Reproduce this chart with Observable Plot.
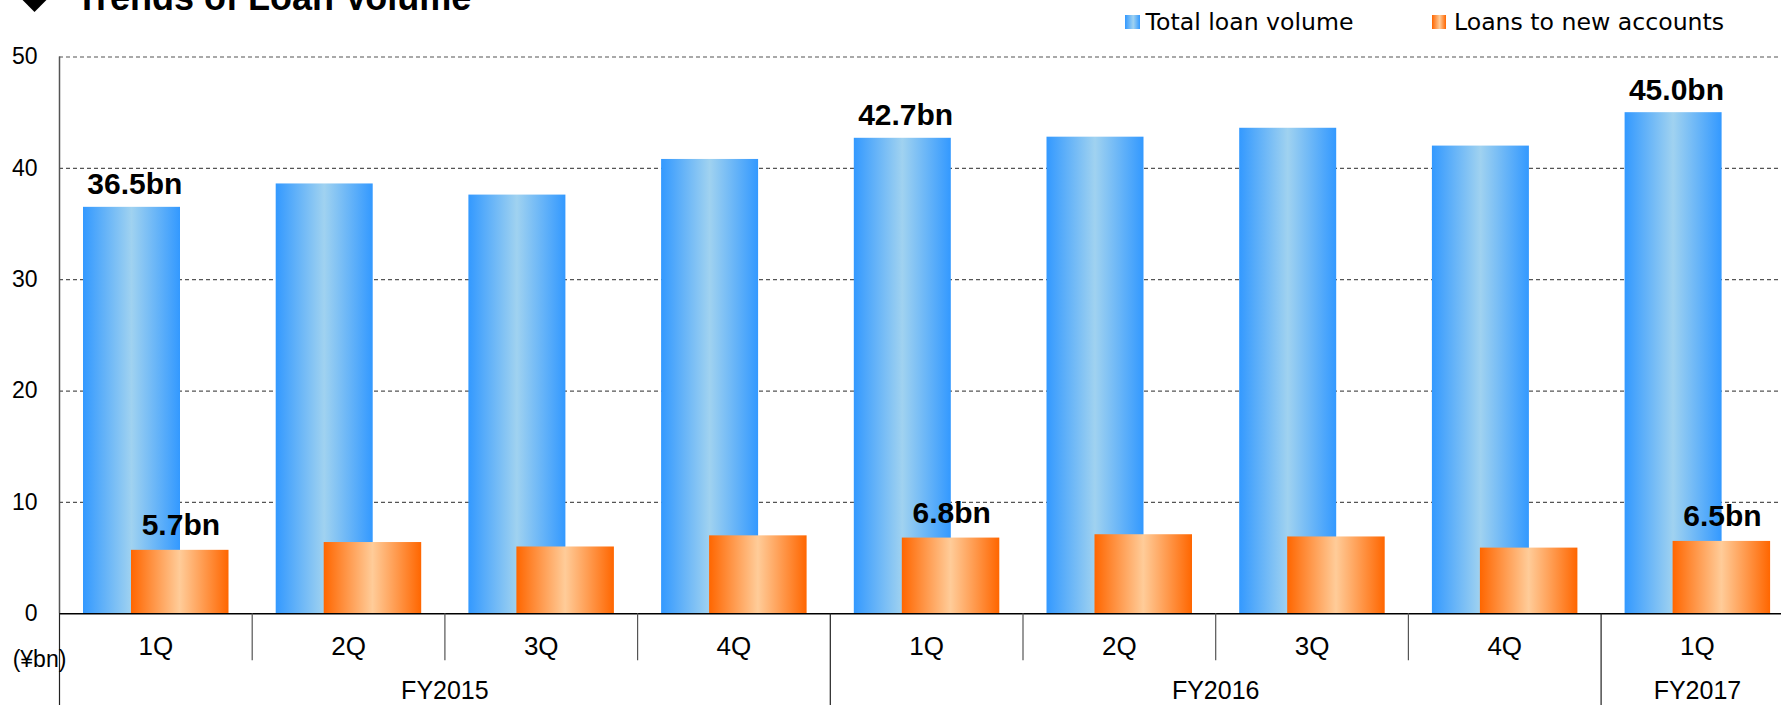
<!DOCTYPE html>
<html>
<head>
<meta charset="utf-8">
<script src="https://cdn.jsdelivr.net/npm/d3@7"></script>
<script src="https://cdn.jsdelivr.net/npm/@observablehq/plot@0.6"></script>
<style>
  html, body { margin: 0; padding: 0; background: #fff; overflow: hidden; }
  #wrap { position: relative; width: 1781px; height: 705px; overflow: hidden; }
  #chart { position: absolute; left: 0; top: 0; }
  #diamond { position: absolute; left: 25px; top: -11.4px; width: 19px; height: 19px; background: #000; transform: rotate(45deg); }
  #title { position: absolute; left: 76px; top: -20.5px; font: bold 36px "Liberation Sans", Arial, sans-serif; line-height: 36px; color: #000; white-space: nowrap; }
  .lg-sw { position: absolute; top: 15px; height: 14px; }
  .lg-tx { position: absolute; top: 11px; font: 23.6px "DejaVu Sans", sans-serif; line-height: 23px; color: #000; white-space: nowrap; }
</style>
</head>
<body>
<div id="wrap">
  <div id="chart"></div>
  <div id="diamond"></div>
  <div id="title">Trends of Loan Volume</div>
  <div class="lg-sw" style="left:1124.6px;width:15px;background:linear-gradient(90deg,#3399ff,#a0d2f0 55%,#3399ff);"></div>
  <div class="lg-tx" style="left:1145.6px;">Total loan volume</div>
  <div class="lg-sw" style="left:1432px;width:14px;background:linear-gradient(90deg,#ff6600,#ffcc99 55%,#ff6600);"></div>
  <div class="lg-tx" style="left:1454px;">Loans to new accounts</div>
</div>
<script>
// ---- data ----
const fiscalYears = ["FY2015", "FY2015", "FY2015", "FY2015", "FY2016", "FY2016", "FY2016", "FY2016", "FY2017"];
const quarters = ["1Q", "2Q", "3Q", "4Q", "1Q", "2Q", "3Q", "4Q", "1Q"];
const totalLoanVolume = [36.5, 38.6, 37.6, 40.8, 42.7, 42.8, 43.6, 42.0, 45.0];
const newAccountLoans = [5.7, 6.4, 6.0, 7.0, 6.8, 7.1, 6.9, 5.9, 6.5];
const labelledQuarters = [0, 4, 8];
const yTicks = [0, 10, 20, 30, 40, 50];
const unitLabel = "(¥bn)";

// ---- derived tables ----
const rows = quarters.map((q, i) => ({i, q, fy: fiscalYears[i], total: totalLoanVolume[i], fresh: newAccountLoans[i]}));
const labelled = rows.filter(d => labelledQuarters.includes(d.i));
const qBounds = rows.filter(d => d.i > 0 && d.fy === fiscalYears[d.i - 1]).map(d => d.i - 0.5);
const fyStarts = rows.filter(d => d.i === 0 || d.fy !== fiscalYears[d.i - 1]).map(d => d.i - 0.5);
const fyGroups = d3.groups(rows, d => d.fy).map(([fy, rs]) => ({fy, c: d3.mean(rs, r => r.i)}));

const FONT = "'Liberation Sans', Arial, sans-serif";
const W = 1781, H = 705;
const mL = 59, mT = 56.5, mB = 91.7;
const band = 192.7;               // px per quarter
const mR = W - (mL + band * quarters.length);

const chart = Plot.plot({
  width: W,
  height: H,
  marginLeft: mL,
  marginTop: mT,
  marginBottom: mB,
  marginRight: mR,
  style: {fontFamily: FONT, background: "transparent", color: "#000"},
  x: {type: "linear", domain: [-0.5, quarters.length - 0.5], axis: null},
  y: {domain: [0, 50], axis: null},
  marks: [
    Plot.ruleY(yTicks.filter(t => t > 0), {stroke: "#555", strokeWidth: 1.2, strokeDasharray: "4,3"}),
    Plot.rectY(rows, {x1: d => d.i - 0.5, x2: d => d.i + 0.5, y: "total", insetLeft: 24, insetRight: 71.7, fill: "url(#gBlue)"}),
    Plot.rectY(rows, {x1: d => d.i - 0.5, x2: d => d.i + 0.5, y: "fresh", insetLeft: 72, insetRight: 23.2, fill: "url(#gOrange)"}),
    Plot.ruleY([0], {stroke: "#000", strokeWidth: 1.5}),
    Plot.ruleX([-0.5], {stroke: "#555", strokeWidth: 1.5}),
    Plot.ruleX(qBounds, {x: d => d, y1: 0, y2: 0, insetBottom: -47, stroke: "#555", strokeWidth: 1.2}),
    Plot.ruleX(fyStarts, {x: d => d, y1: 0, y2: 0, insetBottom: -mB, stroke: "#222", strokeWidth: 1.2}),
    Plot.axisY({ticks: yTicks, tickSize: 0, tickPadding: 22, fontSize: 23, fontFamily: FONT, label: null}),
    Plot.text(rows, {x: "i", y: 0, text: "q", dy: 33, lineAnchor: "middle", fontSize: 26, fill: "#000"}),
    Plot.text(fyGroups, {x: "c", y: 0, text: "fy", dy: 77, lineAnchor: "middle", fontSize: 25, fill: "#000"}),
    Plot.text([unitLabel], {frameAnchor: "bottom-left", text: d => d, textAnchor: "middle", dx: -20, dy: 46, lineAnchor: "middle", fontSize: 23, fill: "#000"}),
    Plot.text(labelled, {x: "i", y: "total", text: d => d.total.toFixed(1) + "bn", dx: -21, dy: -13, lineAnchor: "bottom", fontSize: 30, fontWeight: "bold", fill: "#000"}),
    Plot.text(labelled, {x: "i", y: "fresh", text: d => d.fresh.toFixed(1) + "bn", dx: 25, dy: -15, lineAnchor: "bottom", fontSize: 30, fontWeight: "bold", fill: "#000"})
  ]
});

// gradients used by the bars
const ns = "http://www.w3.org/2000/svg";
const defs = document.createElementNS(ns, "defs");
function grad(id, edge, mid) {
  const g = document.createElementNS(ns, "linearGradient");
  g.setAttribute("id", id);
  g.setAttribute("x1", "0"); g.setAttribute("x2", "1"); g.setAttribute("y1", "0"); g.setAttribute("y2", "0");
  [[0, edge], [0.5, mid], [1, edge]].forEach(([o, c]) => {
    const s = document.createElementNS(ns, "stop");
    s.setAttribute("offset", o);
    s.setAttribute("stop-color", c);
    g.appendChild(s);
  });
  defs.appendChild(g);
}
grad("gBlue", "#3399ff", "#a0d2f0");
grad("gOrange", "#ff6600", "#ffcc99");
chart.insertBefore(defs, chart.firstChild);

document.getElementById("chart").appendChild(chart);
</script>
</body>
</html>
